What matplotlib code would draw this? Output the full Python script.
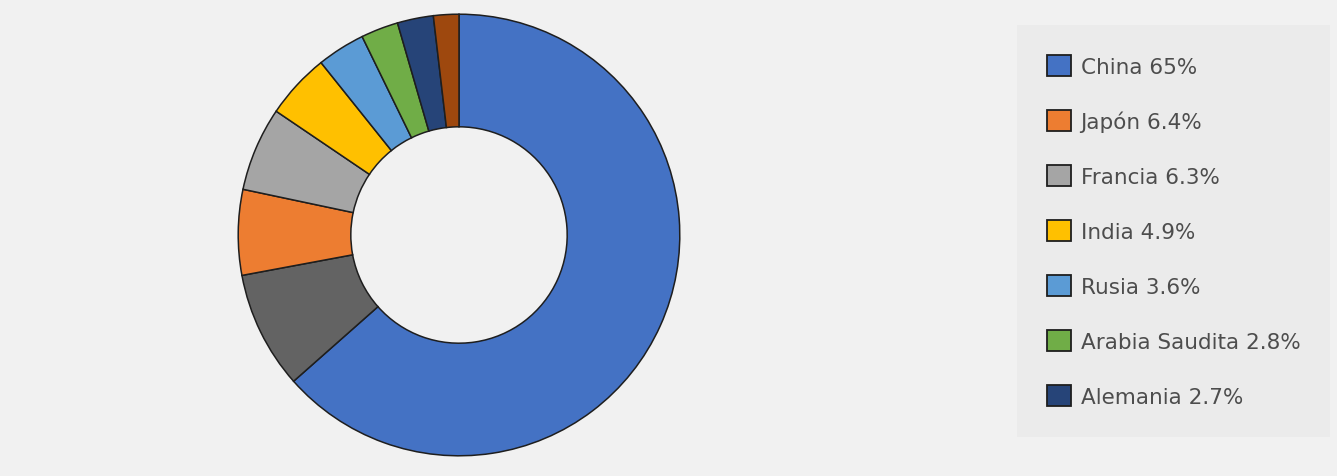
import matplotlib.pyplot as plt

# shares (%) in clockwise order starting at 12 o'clock
countries = ['China', 'Otros', 'Japón', 'Francia', 'India', 'Rusia',
             'Arabia Saudita', 'Alemania', 'Resto']
shares = [65, 8.8, 6.4, 6.3, 4.9, 3.6, 2.8, 2.7, 1.9]
colors = ['#4472C4', '#636363', '#ED7D31', '#A5A5A5', '#FFC000', '#5B9BD5',
          '#70AD47', '#264478', '#9E480E']
# which wedges appear in the legend, top to bottom
legend_order = ['China', 'Japón', 'Francia', 'India', 'Rusia',
                'Arabia Saudita', 'Alemania']

W, H = 1337, 477
fig = plt.figure(figsize=(W / 100, H / 100), dpi=100)
fig.patch.set_facecolor('#f1f1f1')

cx, cy, r = 459, 241, 223
ax = fig.add_axes([(cx - r) / W, (cy - r) / H, 2 * r / W, 2 * r / H])
wedges, _ = ax.pie(shares, colors=colors, startangle=90, counterclock=False,
                   radius=1.0,
                   wedgeprops=dict(width=0.51, edgecolor='#1e1e1e', linewidth=1.1))
ax.set_xlim(-1.01, 1.01)
ax.set_ylim(-1.01, 1.01)
ax.set_aspect('equal')

handles = [wedges[countries.index(c)] for c in legend_order]
labels = [f'{c} {shares[countries.index(c)]:g}%' for c in legend_order]
leg = fig.legend(handles, labels, loc='upper left',
                 bbox_to_anchor=(1017 / W, 1 - 26 / H),
                 fontsize=15.5, labelcolor='#4d4d4d',
                 handlelength=1.1, handleheight=1.1, handletextpad=0.45,
                 labelspacing=1.55, borderpad=1.4, borderaxespad=0,
                 frameon=True, fancybox=False)
leg.get_frame().set_facecolor('#eaeaea')
leg.get_frame().set_edgecolor('none')
for h in leg.legend_handles:
    h.set_edgecolor('#1e1e1e')
    h.set_linewidth(1.3)

fig.savefig('out.png', dpi=100, facecolor=fig.get_facecolor())
